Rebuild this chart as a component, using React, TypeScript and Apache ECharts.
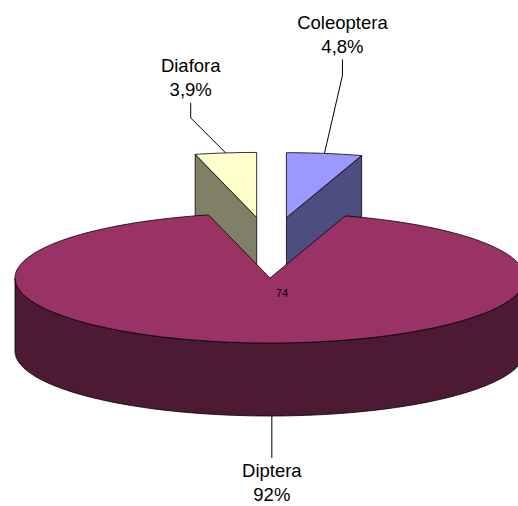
import { useEffect, useRef } from "react";
import * as echarts from "echarts";

// Slices in drawing order, clockwise from 12 o'clock
const categories = ["Coleoptera", "Diptera", "Diafora"];
const percents = [4.8, 92, 3.9];
const percentLabels = ["4,8%", "92%", "3,9%"];
const innerLabels = ["", "74", ""];
const exploded = [true, false, true];

// Palette (top face / side faces)
const TOP_COLORS = ["#9999FF", "#993366", "#FFFFCC"];
const SIDE_COLORS = ["#4D4D80", "#4D1A33", "#808066"];

// 3D pie geometry (screen pixels)
const CX = 270;
const CY = 278;
const RX = 255;
const RY = 65;
const DEPTH = 73;
const EXPLODE_X = 110;
const EXPLODE_Y = 61;

// Leader anchor shift and elbow offsets relative to the slice's rim point
const LEADER: Record<string, { sx: number; dx: number; dy: number; rise: number }> = {
  Coleoptera: { sx: 0, dx: 18, dy: -78, rise: 16 },
  Diafora: { sx: 0, dx: -35, dy: -35, rise: 15 },
  Diptera: { sx: 9, dx: 0, dy: 42, rise: 0 },
};

const FONT = '18.5px "Liberation Sans", Arial, sans-serif';

export default function App() {
  const ref = useRef<HTMLDivElement>(null);

  useEffect(() => {
    if (!ref.current) return;
    const chart = echarts.init(ref.current, undefined, { renderer: "svg" });

    const total = percents.reduce((a, b) => a + b, 0);
    const starts: number[] = [];
    let acc = 0;
    percents.forEach((v) => {
      starts.push((acc / total) * 360);
      acc += v;
    });

    const rad = (d: number) => (d * Math.PI) / 180;

    const renderItem = (params: any, api: any) => {
      const i = params.dataIndex;
      const v = api.value(0) as number;
      const a0 = starts[i];
      const a1 = a0 + (v / total) * 360;
      const mid = (a0 + a1) / 2;
      const ox = exploded[i] ? Math.sin(rad(mid)) * EXPLODE_X : 0;
      const oy = exploded[i] ? -Math.cos(rad(mid)) * EXPLODE_Y : 0;
      const pt = (deg: number, r: number, h: number): number[] => [
        CX + ox + r * RX * Math.sin(rad(deg)),
        CY + oy - r * RY * Math.cos(rad(deg)) + h,
      ];
      const arc = (from: number, to: number, h: number) => {
        const pts: number[][] = [];
        const n = Math.max(2, Math.ceil(Math.abs(to - from) / 1));
        for (let k = 0; k <= n; k++) pts.push(pt(from + ((to - from) * k) / n, 1, h));
        return pts;
      };
      const big = !exploded[i];
      const zBase = big ? 10 : 0;
      const stroke = { stroke: "#000", lineWidth: 0.8, lineJoin: "round" };
      const children: any[] = [];

      // outer curved side, front half only
      const f0 = Math.max(a0, 90);
      const f1 = Math.min(a1, 270);
      if (f1 > f0) {
        const pts = arc(f0, f1, 0).concat(arc(f0, f1, DEPTH).reverse());
        children.push({
          type: "polygon",
          z2: zBase + 1,
          shape: { points: pts },
          style: { fill: SIDE_COLORS[i], ...stroke },
        });
      }

      // radial faces facing the viewer
      const radialFace = (deg: number) => {
        const pts = [pt(deg, 0, 0), pt(deg, 1, 0), pt(deg, 1, DEPTH), pt(deg, 0, DEPTH)];
        children.push({
          type: "polygon",
          z2: zBase + 1,
          shape: { points: pts },
          style: { fill: SIDE_COLORS[i], ...stroke },
        });
      };
      if (Math.sin(rad(a0)) < -1e-6) radialFace(a0);
      if (Math.sin(rad(a1)) > 1e-6) radialFace(a1);

      // top face
      children.push({
        type: "polygon",
        z2: zBase + 2,
        shape: { points: [pt(0, 0, 0)].concat(arc(a0, a1, 0)) },
        style: { fill: TOP_COLORS[i], ...stroke },
      });

      // value inside the slice
      if (innerLabels[i]) {
        children.push({
          type: "text",
          z2: 30,
          style: {
            text: innerLabels[i],
            x: CX + 12,
            y: CY + 15,
            align: "center",
            verticalAlign: "middle",
            fill: "#000",
            font: '11px "Liberation Sans", Arial, sans-serif',
          },
        });
      }

      // leader line and category label
      const front = Math.cos(rad(mid)) < 0;
      const lay = LEADER[categories[i]];
      const rimPt = pt(mid, 1, front ? DEPTH : 0);
      const rim = [rimPt[0] + lay.sx, rimPt[1]];
      const elbow = [rim[0] + lay.dx, rim[1] + lay.dy];
      const end = [elbow[0], elbow[1] + (front ? lay.rise : -lay.rise)];
      children.push({
        type: "polyline",
        z2: 30,
        shape: { points: [rim, elbow, end] },
        style: { stroke: "#000", lineWidth: 1, fill: null },
      });
      children.push({
        type: "text",
        z2: 30,
        style: {
          text: categories[i] + "\n" + percentLabels[i],
          x: end[0],
          y: front ? end[1] + 1 : end[1] - 1,
          align: "center",
          verticalAlign: front ? "top" : "bottom",
          lineHeight: 24,
          fill: "#000",
          font: FONT,
        },
      });

      return { type: "group", children };
    };

    chart.setOption({
      animation: false,
      backgroundColor: "#fff",
      series: [
        {
          type: "custom",
          coordinateSystem: "none",
          renderItem,
          data: percents.map((v, i) => ({ name: categories[i], value: [v] })),
        },
      ],
    });

    return () => chart.dispose();
  }, []);

  return (
    <div
      ref={ref}
      style={{ position: "fixed", left: 0, top: 0, width: 518, height: 506 }}
    />
  );
}
